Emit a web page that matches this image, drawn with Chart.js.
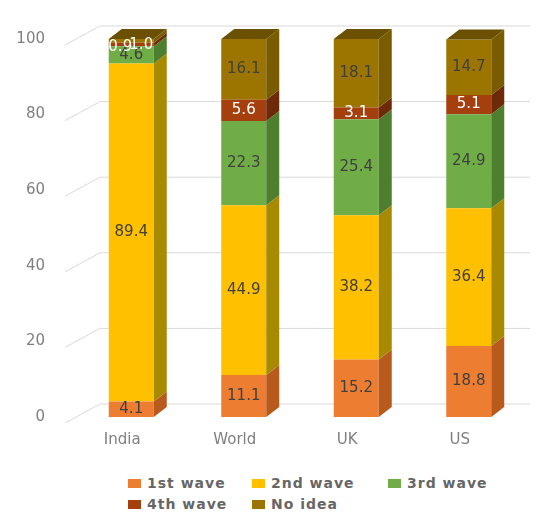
<!DOCTYPE html>
<html>
<head>
<meta charset="utf-8">
<script src="https://cdn.jsdelivr.net/npm/chart.js@4.4.1/dist/chart.umd.min.js"></script>
<style>
  html, body { margin: 0; padding: 0; background: #fff; }
  #wrap { position: relative; width: 548px; height: 516px; }
  #c { display: block; }
  #legend {
    position: absolute; left: 128px; top: 475px;
    display: grid; grid-template-columns: 124px 136px 120px;
    row-gap: 5px;
    font: bold 14px "DejaVu Sans", sans-serif; letter-spacing: 1px; color: #666;
  }
  #legend span.item { display: flex; align-items: center; white-space: nowrap; }
  #legend i { display: inline-block; width: 13px; height: 9px; margin-right: 6px; }
</style>
</head>
<body>
<div id="wrap">
  <canvas id="c" width="548" height="462"></canvas>
  <div id="legend"></div>
</div>
<script>
const categories = ['India', 'World', 'UK', 'US'];
const firstWave  = [4.1, 11.1, 15.2, 18.8];
const secondWave = [89.4, 44.9, 38.2, 36.4];
const thirdWave  = [4.6, 22.3, 25.4, 24.9];
const fourthWave = [0.9, 5.6, 3.1, 5.1];
const noIdea     = [1.0, 16.1, 18.1, 14.7];
const yTicks = [0, 20, 40, 60, 80, 100];

// front / side colours, Excel style
const series = [
  { label: '1st wave', data: firstWave,  front: '#ED7D31', side: '#B85A1C', top: '#D8692A', text: '#404040' },
  { label: '2nd wave', data: secondWave, front: '#FFC000', side: '#A88A00', top: '#E0A800', text: '#404040' },
  { label: '3rd wave', data: thirdWave,  front: '#70AD47', side: '#4E7F2E', top: '#5E9A3A', text: '#404040' },
  { label: '4th wave', data: fourthWave, front: '#A5400E', side: '#6E2A08', top: '#8A360B', text: '#ffffff' },
  { label: 'No idea',  data: noIdea,     front: '#9C7500', side: '#7A5C00', top: '#6A5000', text: '#404040' }
];

const DX = 13, DY = 10;      // bar depth
const GRID_UP = 13;          // back wall offset

const backWall = {
  id: 'backWall',
  beforeDatasetsDraw(chart) {
    const ctx = chart.ctx, y = chart.scales.y, area = chart.chartArea;
    ctx.save();
    ctx.strokeStyle = '#D9D9D9';
    ctx.lineWidth = 1;
    yTicks.forEach(v => {
      const py = y.getPixelForValue(v);
      ctx.beginPath();
      ctx.moveTo(area.left - 10, py + 6);
      ctx.lineTo(area.left + 25, py - GRID_UP);
      ctx.lineTo(area.right + 5, py - GRID_UP);
      ctx.stroke();
    });
    ctx.restore();
  }
};

const bars3d = {
  id: 'bars3d',
  afterDatasetsDraw(chart) {
    const ctx = chart.ctx;
    const last = chart.data.datasets.length - 1;
    ctx.save();
    chart.data.datasets.forEach((ds, di) => {
      const meta = chart.getDatasetMeta(di);
      meta.data.forEach(bar => {
        const p = bar.getProps(['x', 'y', 'base', 'width'], true);
        const right = p.x + p.width / 2, left = p.x - p.width / 2;
        ctx.fillStyle = series[di].side;
        ctx.beginPath();
        ctx.moveTo(right, p.y);
        ctx.lineTo(right + DX, p.y - DY);
        ctx.lineTo(right + DX, p.base - DY);
        ctx.lineTo(right, p.base);
        ctx.closePath();
        ctx.fill();
        if (di === last) {
          ctx.fillStyle = series[di].top;
          ctx.beginPath();
          ctx.moveTo(left, p.y);
          ctx.lineTo(left + DX, p.y - DY);
          ctx.lineTo(right + DX, p.y - DY);
          ctx.lineTo(right, p.y);
          ctx.closePath();
          ctx.fill();
        }
      });
    });
    ctx.restore();
  },
  afterDraw(chart) {
    // data labels
    const ctx = chart.ctx;
    ctx.save();
    ctx.font = '15px "DejaVu Sans"';
    ctx.textAlign = 'center';
    ctx.textBaseline = 'middle';
    chart.data.datasets.forEach((ds, di) => {
      const meta = chart.getDatasetMeta(di);
      meta.data.forEach((bar, i) => {
        const v = ds.data[i];
        const p = bar.getProps(['x', 'y', 'base'], true);
        let x = p.x, yy = (p.y + p.base) / 2;
        let col = series[di].text;
        if (v < 2) { col = '#ffffff'; x += di === 3 ? -11 : 10; yy = p.y + (di === 3 ? 4 : 6); }
        ctx.fillStyle = col;
        ctx.fillText(v.toFixed(1), x, yy);
      });
    });
    ctx.restore();
  }
};

const chart = new Chart(document.getElementById('c'), {
  type: 'bar',
  data: {
    labels: categories,
    datasets: series.map(s => ({
      label: s.label,
      data: s.data,
      backgroundColor: s.front,
      borderWidth: 0,
      barPercentage: 0.4,
      categoryPercentage: 1
    }))
  },
  options: {
    responsive: false,
    animation: false,
    layout: { padding: { top: 39, right: 23, left: 0, bottom: 0 } },
    plugins: { legend: { display: false }, tooltip: { enabled: false } },
    scales: {
      x: {
        stacked: true,
        grid: { display: false, drawTicks: false },
        border: { display: false },
        ticks: { padding: 14, labelOffset: -9, color: '#7F7F7F', font: { family: 'DejaVu Sans', size: 15 } },
        afterFit(s) { s.height = 45; }
      },
      y: {
        stacked: true,
        min: 0, max: 100,
        afterBuildTicks(s) { s.ticks = yTicks.map(v => ({ value: v })); },
        grid: { display: false, drawTicks: false },
        border: { display: false },
        ticks: { padding: 30, color: '#7F7F7F', font: { family: 'DejaVu Sans', size: 15 } },
        afterFit(s) { s.width = 75; }
      }
    }
  },
  plugins: [backWall, bars3d]
});

// legend in html, rows left aligned like the original
const legend = document.getElementById('legend');
chart.data.datasets.forEach(ds => {
  const item = document.createElement('span');
  item.className = 'item';
  item.innerHTML = '<i style="background:' + ds.backgroundColor + '"></i>' + ds.label;
  legend.appendChild(item);
});
</script>
</body>
</html>
